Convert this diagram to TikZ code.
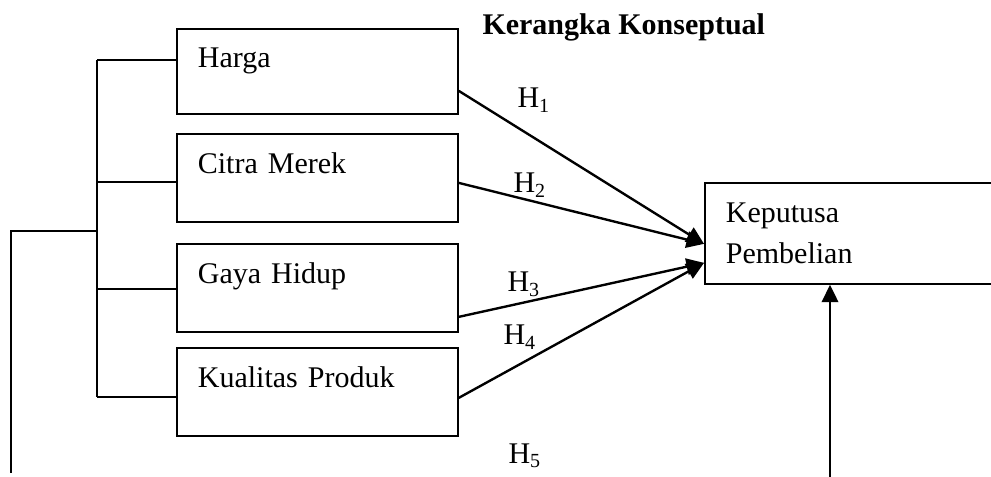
\documentclass[tikz,border=0pt]{standalone}
\usepackage{fontspec}
\setmainfont{Liberation Serif}
\usetikzlibrary{arrows.meta,calc}
\begin{document}
\begin{tikzpicture}[x=0.4pt,y=-0.4pt,
  varbox/.style={shape=rectangle,draw,line width=0.7pt,anchor=north west,inner xsep=8.4pt,inner ysep=0pt,text width=95.6pt,align=left,font=\fontsize{12}{14}\selectfont,text height=16pt,text depth=19.2pt},
  hlabel/.style={anchor=base west,inner sep=0pt,font=\fontsize{12}{14}\selectfont},
  tie/.style={line width=0.55pt},
  harrow/.style={line width=0.95pt,-{Triangle[length=7pt,width=6.6pt]}}]
\useasboundingbox (0,0) rectangle (991,477);
\clip (0,0) rectangle (991,477);
\node[hlabel,font=\fontsize{12}{14}\selectfont\bfseries] (title) at (482,35) {Kerangka Konseptual};
\node[varbox,text height=15.6pt,text depth=18.4pt] (harga) at (176,28) {Harga};
\node[varbox] (citra) at (176,133) {Citra Merek};
\node[varbox] (gaya) at (176,243) {Gaya Hidup};
\node[varbox] (kualitas) at (176,347) {Kualitas Produk};
\node[varbox,text width=103.2pt,text depth=24.4pt,font=\fontsize{12}{16.4}\selectfont] (keputusan) at (704,182) {Keputusa\\Pembelian};
% bracket on the left
\coordinate (brTop) at (97,60);
\coordinate (brCitra) at (97,182);
\coordinate (brMid) at (97,231);
\coordinate (brGaya) at (97,289);
\coordinate (brBot) at (97,397);
\coordinate (leftEnd) at (11,473);
\draw[tie] (brTop) -- (brBot);
\draw[tie] (brTop) -- (harga.west |- brTop);
\draw[tie] (brCitra) -- (citra.west |- brCitra);
\draw[tie] (brGaya) -- (gaya.west |- brGaya);
\draw[tie] (brBot) -- (kualitas.west |- brBot);
\draw[tie] (brMid) -| (leftEnd);
% hypotheses
\draw[harrow] ($(harga.east)+(0,19.5)$) -- ($(keputusan.west)+(0,10.5)$);
\draw[harrow] ($(citra.east)+(0,5)$) -- ($(keputusan.west)+(0,10.5)$);
\draw[harrow] ($(gaya.east)+(0,29)$) -- ($(keputusan.west)+(0,29.5)$);
\draw[harrow] ($(kualitas.east)+(0,6)$) -- ($(keputusan.west)+(0,29.5)$);
\coordinate (h5End) at (830,480);
\draw[harrow] (h5End) -- (h5End |- keputusan.south);
\node[hlabel] (h1) at (517,108) {H\textsubscript{1}};
\node[hlabel] (h2) at (513,193) {H\textsubscript{2}};
\node[hlabel] (h3) at (507,292) {H\textsubscript{3}};
\node[hlabel] (h4) at (503,345) {H\textsubscript{4}};
\node[hlabel] (h5) at (508,463) {H\textsubscript{5}};
\end{tikzpicture}
\end{document}
